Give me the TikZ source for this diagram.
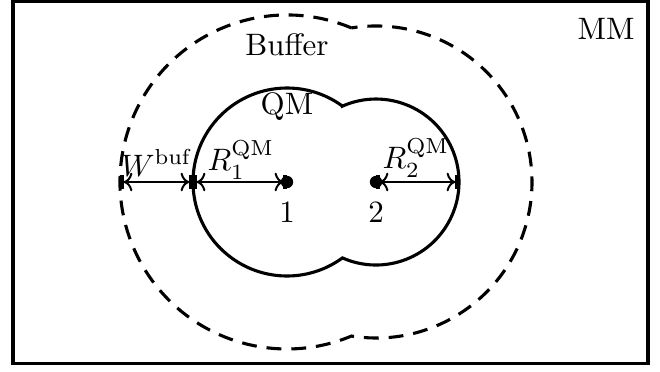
\documentclass[tikz,border=0pt]{standalone}
\usetikzlibrary{arrows.meta}
\begin{document}
\begin{tikzpicture}[x=0.3226pt,y=0.3226pt,
  region/.style={line width=1pt},
  bufline/.style={line width=1pt,dash pattern=on 4.8pt off 3.2pt},
  meas/.style={line width=0.65pt,
    {Bar[width=4.5pt,line width=1.2pt]To[length=2.8pt,width=6pt]}-{To[length=2.8pt,width=6pt]Bar[width=4.5pt,line width=1.2pt]}},
  atom/.style={circle,fill=black,inner sep=0pt,minimum size=4pt},
  lbl/.style={inner sep=0pt}]
\useasboundingbox (0,0) rectangle (660,371);
\draw[line width=1pt] (13,7.5) rectangle (648,369.5);
% centres
\coordinate (c1) at (287,189);
\coordinate (c2) at (376,189);
% buffer boundary
\draw[bufline] (351.46,343.06) arc[start angle=67.29,end angle=292.71,radius=167]
  arc[start angle=260.95,end angle=459.05,radius=156] -- cycle;
% QM boundary
\draw[region] (342.44,264.91) arc[start angle=53.86,end angle=306.14,radius=94]
  arc[start angle=246.15,end angle=473.85,radius=83] -- cycle;
% measurement points
\coordinate (bL) at (120,189);
\coordinate (qL) at (193,189);
\coordinate (qR) at (459,189);
\draw[meas] (bL) -- (qL);
\draw[meas] (qL) -- (c1);
\draw[meas] (c2) -- (qR);
\node[atom] (a1) at (c1) {};
\node[atom] (a2) at (c2) {};
% labels
\node[lbl] (mm) at (606,342) {MM};
\node[lbl] (buf) at (287,326) {Buffer};
\node[lbl] (qm) at (287,264) {QM};
\node[lbl] (w) at (157,208) {$W^{\mathrm{buf}}$};
\node[lbl] (r1) at (241,211) {$R_1^{\mathrm{QM}}$};
\node[lbl] (r2) at (416,213) {$R_2^{\mathrm{QM}}$};
\node[lbl] (n1) at (287,159) {1};
\node[lbl] (n2) at (376,159) {2};
\end{tikzpicture}
\end{document}
